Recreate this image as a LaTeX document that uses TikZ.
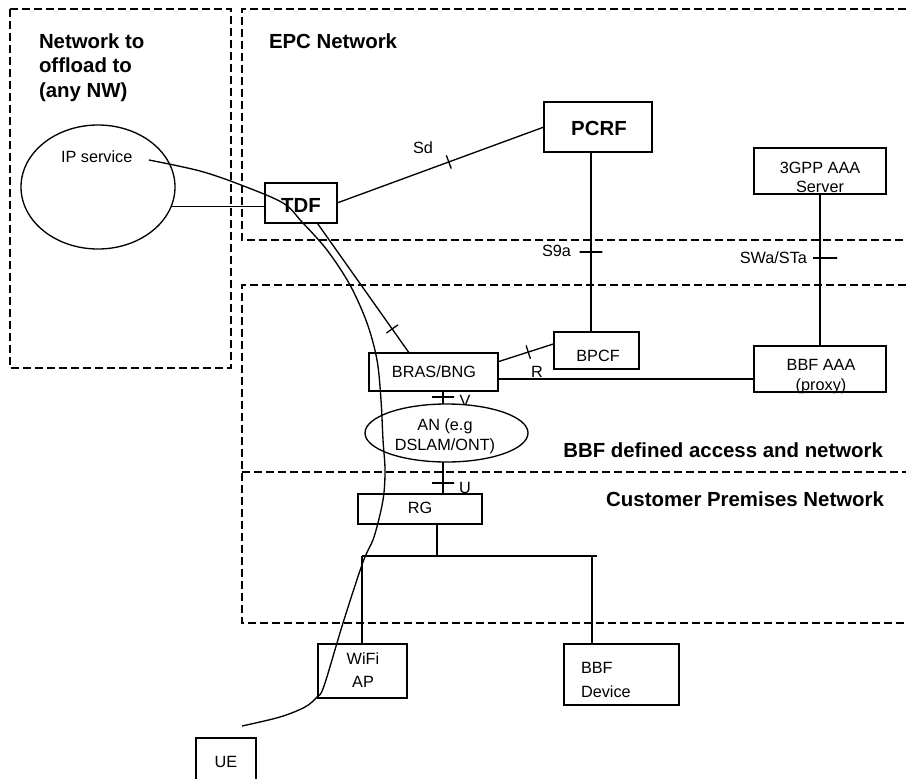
\documentclass[tikz,border=0pt]{standalone}
\usepackage{fontspec}
\setmainfont{Liberation Sans}
\usetikzlibrary{shapes.geometric}
\begin{document}
\begin{tikzpicture}[x=0.75pt,y=-0.75pt,
  every node/.style={inner sep=0pt, outer sep=0pt},
  box/.style={draw, rectangle, line width=1pt, fill=white},
  oval/.style={draw, ellipse, line width=1pt, fill=white},
  conn/.style={line width=1pt},
  zone/.style={line width=0.9pt, dash pattern=on 6pt off 3pt},
  txt/.style={font=\fontsize{12.2}{14}\selectfont},
  head/.style={font=\fontsize{15.3}{18}\selectfont\bfseries},
  ifmark/.style={sloped, draw, line width=1pt, minimum width=0pt, minimum height=#1},
  ifmark/.default=10.5pt,
  hmark/.style={draw, line width=1pt, minimum height=0pt, minimum width=#1},
  hmark/.default=17pt]
\useasboundingbox (0,0) rectangle (906,778);

% zones
\draw[zone] (10,9) rectangle (231,368);
\draw[zone] (906,9) -- (242,9) -- (242,240) -- (906,240);
\draw[zone] (906,285) -- (242,285) -- (242,623) -- (906,623);
\draw[zone] (242,472) -- (906,472);

% zone headings
\node[head, anchor=base west] (nw1) at (39,48) {Network to};
\node[head, anchor=base west] (nw2) at (39,72.5) {offload to};
\node[head, anchor=base west] (nw3) at (39,97) {(any NW)};
\node[head, anchor=base west] (epc) at (269,48) {EPC Network};
\node[head, anchor=base east] (bbfz) at (883,457) {BBF defined access and network};
\node[head, anchor=base east] (cpn) at (884,506) {Customer Premises Network};

% label partly hidden by AN
\node[txt, anchor=base] (lv) at (465,406.5) {V};

% boxes
\node[oval, minimum width=115.5pt, minimum height=93pt] (ip) at (98,187) {};
\node[box, minimum width=54pt, minimum height=30pt] (tdf) at (301,203) {};
\node[box, minimum width=81pt, minimum height=37.5pt] (pcrf) at (598,127) {};
\node[box, minimum width=99pt, minimum height=34.5pt] (aaa3) at (820,171) {};
\node[box, minimum width=63.75pt, minimum height=27.75pt] (bpcf) at (596.5,350.5) {};
\node[box, minimum width=99pt, minimum height=34.5pt] (bbfaaa) at (820,369) {};
\node[box, minimum width=96.75pt, minimum height=28.5pt] (bras) at (433.5,372) {};
\node[oval, minimum width=122.25pt, minimum height=43.5pt] (an) at (446.5,433) {};
\node[box, minimum width=93pt, minimum height=22.5pt] (rg) at (420,509) {};
\node[box, minimum width=66.75pt, minimum height=40.5pt] (wifi) at (362.5,671) {};
\node[box, minimum width=86.25pt, minimum height=45.75pt] (bbfdev) at (621.5,674.5) {};
\node[box, minimum width=45pt, minimum height=33pt] (ue) at (226,760) {};

% box texts
\node[txt, anchor=base west] (ipt) at (61,162) {IP service};
\node[head, anchor=base] (tdft) at (301,212) {TDF};
\node[head, anchor=base] (pcrft) at (599,135) {PCRF};
\node[txt, anchor=base] (aaa3a) at (820,173) {3GPP AAA};
\node[txt, anchor=base] (aaa3b) at (820,192) {Server};
\node[txt, anchor=base] (bpcft) at (598,361) {BPCF};
\node[txt, anchor=base] (bbfaaaa) at (821,370) {BBF AAA};
\node[txt, anchor=base] (bbfaaab) at (821,390) {(proxy)};
\node[txt, anchor=base] (brast) at (434,377) {BRAS/BNG};
\node[txt, anchor=base] (ana) at (445,430) {AN (e.g};
\node[txt, anchor=base] (anb) at (445,450) {DSLAM/ONT)};
\node[txt, anchor=base] (rgt) at (420,513) {RG};
\node[txt, anchor=base] (wifia) at (363,664) {WiFi};
\node[txt, anchor=base] (wifib) at (363,687) {AP};
\node[txt, anchor=base west] (bbfdeva) at (581,673) {BBF};
\node[txt, anchor=base west] (bbfdevb) at (581,697) {Device};
\node[txt, anchor=base] (uet) at (226,767) {UE};

% interface labels
\node[txt, anchor=base] (lsd) at (423,153) {Sd};
\node[txt, anchor=base east] (ls9a) at (571,256) {S9a};
\node[txt, anchor=base east] (lswa) at (807,263) {SWa/STa};
\node[txt, anchor=base] (lr) at (537,377) {R};
\node[txt, anchor=base] (lu) at (465,493) {U};

% helper coordinates
\coordinate (s9x) at (591,0);
\coordinate (vx) at (443,0);
\coordinate (busL) at (362,556);
\coordinate (busR) at (597,556);
\coordinate (busM) at (437,556);
\coordinate (busD) at (592,556);

% connectors
\draw[conn] (ip.-15) -- (ip.-15 -| tdf.west);
\draw[conn] (tdf.east) -- node[ifmark, pos=0.54]{} (pcrf.west);
\draw[conn] (pcrf.south -| s9x) -- node[hmark, pos=0.556]{} (bpcf.north -| s9x);
\draw[conn] (aaa3.south) -- node[hmark=18pt, pos=0.42, xshift=3.75pt]{} (bbfaaa.north);
\draw[conn] (tdf.-51) -- node[ifmark, pos=0.815]{} (bras.142);
\draw[conn] (bras.9) -- node[ifmark, pos=0.54]{} (bpcf.171);
\draw[conn] ([yshift=-5.25pt]bras.east) -- ([yshift=-5.25pt]bras.east -| bbfaaa.west);
\draw[conn] (bras.south -| vx) -- node[hmark=16.5pt, pos=0.46]{} (an.north -| vx);
\draw[conn] (an.south -| vx) -- node[hmark=16.5pt, pos=0.66]{} (rg.north -| vx);
\draw[conn] (busL) -- (busR);
\draw[conn] (rg.south -| busM) -- (busM);
\draw[conn] (busL) -- (busL |- wifi.north);
\draw[conn] (busD) -- (busD |- bbfdev.north);

% traffic path
\coordinate (cs) at (149,160);
\coordinate (ce) at (242,726);
\draw[conn] plot[smooth, tension=0.55] coordinates {(cs) (200,171) (241,185) (283,203) (302,222) (327,250) (350,285) (367,323) (377,360) (381,400) (383,440) (385,470) (383,500) (374,537) (363,562) (343,623) (324,686) (317,697) (305,707) (280,717) (ce)};
\end{tikzpicture}
\end{document}
